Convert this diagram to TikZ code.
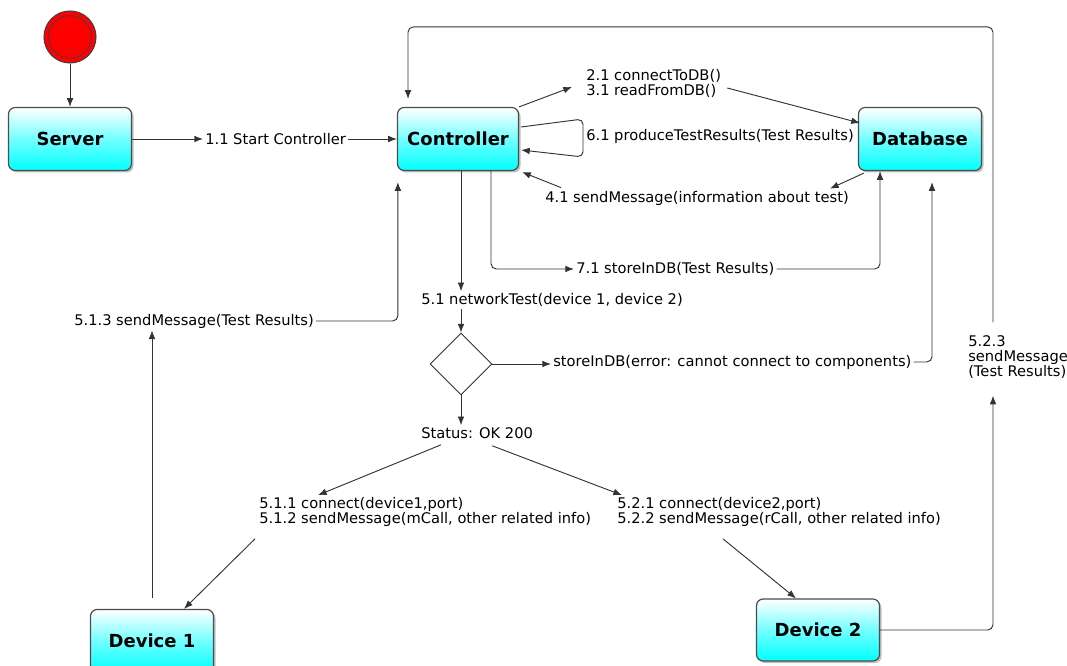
\documentclass[tikz,border=0pt]{standalone}
\usepackage{fontspec}
\setmainfont{DejaVu Sans}
\usetikzlibrary{arrows.meta,shadows,shapes.geometric,calc}
\begin{document}
\begin{tikzpicture}[x=0.75pt,y=-0.75pt,
  box/.style={draw=black!70, line width=0.9pt, rounded corners=5pt,
    top color=white, bottom color=cyan, middle color=cyan!55!white,
    minimum width=92.25pt, minimum height=47.25pt,
    font=\fontsize{13.5}{16}\selectfont\bfseries,
    drop shadow={shadow xshift=1.5pt, shadow yshift=-1.5pt, fill=black!50, opacity=0.5}},
  lbl/.style={font=\fontsize{11}{11.25}\selectfont, inner sep=1.5pt, align=left, text=black, anchor=west},
  ln/.style={draw=black!80, line width=0.7pt, rounded corners=4pt},
  arr/.style={ln, -{Latex[length=6.5pt,width=5pt]}},
  startnode/.style={circle, fill=red, draw=black!75, line width=0.8pt, minimum size=39pt, inner sep=0pt},
  decision/.style={diamond, draw=black!80, line width=0.7pt, minimum width=46.5pt, minimum height=46.5pt, inner sep=0pt, fill=white}
]
\useasboundingbox (0,0) rectangle (1067,666);

% nodes
\node[startnode] (st) at (70,37) {};
\draw[black!75, line width=0.6pt] (st.center) circle[radius=16pt];
\node[box] (server) at (70,139) {Server};
\node[box, minimum width=90.75pt] (ctrl) at (458,139) {Controller};
\node[box] (db) at (920,139) {Database};
\node[box] (dev1) at (152,641) {Device 1};
\node[box, minimum height=46.5pt] (dev2) at (818,630) {Device 2};
\node[decision] (dec) at (461,364) {};

\node[lbl] (l11) at (203,139) {1.1 Start Controller};
\node[lbl] (l2131) at (584,83) {2.1 connectToDB()\\3.1 readFromDB()};
\node[lbl] (l61) at (584,136) {6.1 produceTestResults(Test Results)};
\node[lbl] (l41) at (543,198) {4.1 sendMessage(information about test)};
\node[lbl] (l71) at (574,269) {7.1 storeInDB(Test Results)};
\node[lbl] (l51) at (419,300) {5.1 networkTest(device 1, device 2)};
\node[lbl] (lerr) at (551,362) {storeInDB(error: cannot connect to components)};
\node[lbl] (lok) at (419,433) {Status: OK 200};
\node[lbl] (l511) at (257,512) {5.1.1 connect(device1,port)\\5.1.2 sendMessage(mCall, other related info)};
\node[lbl] (l521) at (615,512) {5.2.1 connect(device2,port)\\5.2.2 sendMessage(rCall, other related info)};
\node[lbl] (l513) at (72,321) {5.1.3 sendMessage(Test Results)};
\node[lbl] (l523) at (966,357) {5.2.3\\sendMessage\\(Test Results)};

\coordinate (c51) at ([shift={(3,0)}]ctrl.south);
\coordinate (d1t) at ([shift={(0,-11)}]dev1.north);

% connectors
\draw[arr] (st) -- (server);
\draw[arr] (server) -- (l11);
\draw[arr] (l11) -- (ctrl);
\draw[arr] (ctrl.north east) -- ([shift={(-12,4)}]l2131.west);
\draw[arr] ([shift={(4,5)}]l2131.east) -- ([shift={(2,-16)}]db.west);
\draw[arr] ([shift={(2,-12)}]ctrl.east) -- (583,119) -- (583,157) -- ([shift={(2,11)}]ctrl.east);
\draw[arr] ([shift={(6,2)}]db.south west) -- ([shift={(-21,0)}]l41.north east);
\draw[arr] ([shift={(18,-1)}]l41.north west) -- ([shift={(3,1)}]ctrl.south east);
\draw[arr] ([shift={(33,0)}]ctrl.south) |- (l71.west);
\draw[arr] (l71.east) -| ([shift={(-40,0)}]db.south);
\draw[arr] (c51) -- (c51 |- l51.north);
\draw[arr] (dec.north |- l51.south) -- (dec.north);
\draw[arr] (dec.east) -- (dec.east -| lerr.west);
\draw[arr] (lerr.east) -| ([shift={(12,11)}]db.south);
\draw[arr] (dec.south) -- (dec.south |- lok.north);
\draw[arr] ([shift={(22,4)}]lok.south west) -- ([shift={(61,0)}]l511.north west);
\draw[arr] ([shift={(-43,5)}]lok.south east) -- ([shift={(7,0)}]l521.north west);
\draw[arr] ([shift={(-2,10)}]l511.south west) -- ([shift={(32,0)}]dev1.north);
\draw[arr] ([shift={(108,10)}]l521.south west) -- ([shift={(-22,0)}]dev2.north);
\draw[arr] (d1t) -- (d1t |- l513.south);
\draw[arr] (l513.east) -| ([shift={(1,11)}]ctrl.south west);
\draw[arr] (dev2.east) -| ([shift={(27,15)}]l523.south west);
\draw[arr] ([shift={(27,-11)}]l523.north west) |- ([shift={(-50,-80)}]ctrl.north) -- ([shift={(-50,-8)}]ctrl.north);
\end{tikzpicture}
\end{document}
